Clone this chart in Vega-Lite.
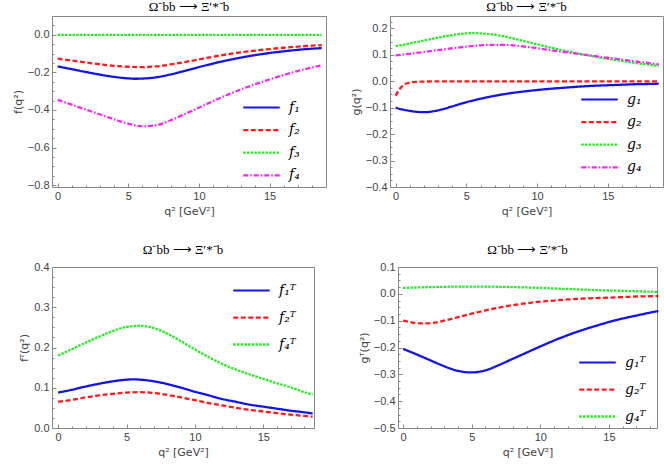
{
  "$schema": "https://vega.github.io/schema/vega-lite/v6.json",
  "padding": {"left": 11, "top": 0, "right": 2, "bottom": 2},
  "spacing": 26,
  "config": {
    "view": {"stroke": "#888888", "strokeWidth": 1},
    "font": "Liberation Sans",
    "axis": {
      "domain": false,
      "grid": false,
      "labelFont": "Liberation Sans",
      "labelFontSize": 11,
      "labelColor": "#444444",
      "titleFont": "DejaVu Sans",
      "titleFontSize": 11,
      "titleFontWeight": "normal",
      "titleColor": "#444444",
      "tickColor": "#888888",
      "tickSize": -4,
      "labelPadding": 7
    },
    "legend": {
      "title": null,
      "orient": "none",
      "symbolType": "M-2,0H2",
      "symbolSize": 333,
      "symbolStrokeWidth": 2.5,
      "symbolFillColor": "transparent",
      "labelFont": "DejaVu Serif",
      "labelFontStyle": "italic",
      "labelFontSize": 14,
      "labelColor": "#000000",
      "labelOffset": 17,
      "rowPadding": 4.6
    },
    "line": {"strokeWidth": 2.3, "interpolate": "monotone"}
  },
  "datasets": {
    "f": [
      {"q2": 0, "fn": "f₁", "v": -0.168}, {"q2": 1, "fn": "f₁", "v": -0.183}, {"q2": 2, "fn": "f₁", "v": -0.198}, {"q2": 3, "fn": "f₁", "v": -0.212}, {"q2": 4, "fn": "f₁", "v": -0.224}, {"q2": 5, "fn": "f₁", "v": -0.232}, {"q2": 5.5, "fn": "f₁", "v": -0.234}, {"q2": 6, "fn": "f₁", "v": -0.233}, {"q2": 7, "fn": "f₁", "v": -0.226}, {"q2": 8, "fn": "f₁", "v": -0.211}, {"q2": 9, "fn": "f₁", "v": -0.192}, {"q2": 10, "fn": "f₁", "v": -0.172}, {"q2": 11, "fn": "f₁", "v": -0.153}, {"q2": 12, "fn": "f₁", "v": -0.136}, {"q2": 13, "fn": "f₁", "v": -0.121}, {"q2": 14, "fn": "f₁", "v": -0.108}, {"q2": 15, "fn": "f₁", "v": -0.097}, {"q2": 16, "fn": "f₁", "v": -0.088}, {"q2": 17, "fn": "f₁", "v": -0.080}, {"q2": 18, "fn": "f₁", "v": -0.074}, {"q2": 18.7, "fn": "f₁", "v": -0.071},
      {"q2": 0, "fn": "f₂", "v": -0.127}, {"q2": 1, "fn": "f₂", "v": -0.137}, {"q2": 2, "fn": "f₂", "v": -0.147}, {"q2": 3, "fn": "f₂", "v": -0.157}, {"q2": 4, "fn": "f₂", "v": -0.165}, {"q2": 5, "fn": "f₂", "v": -0.170}, {"q2": 6, "fn": "f₂", "v": -0.172}, {"q2": 7, "fn": "f₂", "v": -0.168}, {"q2": 8, "fn": "f₂", "v": -0.158}, {"q2": 9, "fn": "f₂", "v": -0.145}, {"q2": 10, "fn": "f₂", "v": -0.131}, {"q2": 11, "fn": "f₂", "v": -0.117}, {"q2": 12, "fn": "f₂", "v": -0.104}, {"q2": 13, "fn": "f₂", "v": -0.093}, {"q2": 14, "fn": "f₂", "v": -0.084}, {"q2": 15, "fn": "f₂", "v": -0.076}, {"q2": 16, "fn": "f₂", "v": -0.069}, {"q2": 17, "fn": "f₂", "v": -0.063}, {"q2": 18, "fn": "f₂", "v": -0.058}, {"q2": 18.7, "fn": "f₂", "v": -0.055},
      {"q2": 0, "fn": "f₃", "v": 0.0}, {"q2": 5, "fn": "f₃", "v": 0.0}, {"q2": 10, "fn": "f₃", "v": 0.0}, {"q2": 15, "fn": "f₃", "v": 0.0}, {"q2": 18.7, "fn": "f₃", "v": 0.0},
      {"q2": 0, "fn": "f₄", "v": -0.346}, {"q2": 1, "fn": "f₄", "v": -0.372}, {"q2": 2, "fn": "f₄", "v": -0.398}, {"q2": 3, "fn": "f₄", "v": -0.424}, {"q2": 4, "fn": "f₄", "v": -0.450}, {"q2": 5, "fn": "f₄", "v": -0.473}, {"q2": 6, "fn": "f₄", "v": -0.487}, {"q2": 7, "fn": "f₄", "v": -0.481}, {"q2": 8, "fn": "f₄", "v": -0.455}, {"q2": 9, "fn": "f₄", "v": -0.422}, {"q2": 10, "fn": "f₄", "v": -0.388}, {"q2": 11, "fn": "f₄", "v": -0.353}, {"q2": 12, "fn": "f₄", "v": -0.320}, {"q2": 13, "fn": "f₄", "v": -0.290}, {"q2": 14, "fn": "f₄", "v": -0.263}, {"q2": 15, "fn": "f₄", "v": -0.238}, {"q2": 16, "fn": "f₄", "v": -0.214}, {"q2": 17, "fn": "f₄", "v": -0.193}, {"q2": 18, "fn": "f₄", "v": -0.174}, {"q2": 18.7, "fn": "f₄", "v": -0.162}
    ],
    "g": [
      {"q2": 0, "fn": "g₁", "v": -0.100}, {"q2": 0.5, "fn": "g₁", "v": -0.107}, {"q2": 1, "fn": "g₁", "v": -0.112}, {"q2": 2, "fn": "g₁", "v": -0.117}, {"q2": 3, "fn": "g₁", "v": -0.110}, {"q2": 4, "fn": "g₁", "v": -0.095}, {"q2": 5, "fn": "g₁", "v": -0.079}, {"q2": 6, "fn": "g₁", "v": -0.066}, {"q2": 7, "fn": "g₁", "v": -0.055}, {"q2": 8, "fn": "g₁", "v": -0.046}, {"q2": 9, "fn": "g₁", "v": -0.039}, {"q2": 10, "fn": "g₁", "v": -0.033}, {"q2": 11, "fn": "g₁", "v": -0.028}, {"q2": 12, "fn": "g₁", "v": -0.024}, {"q2": 13, "fn": "g₁", "v": -0.020}, {"q2": 14, "fn": "g₁", "v": -0.017}, {"q2": 15, "fn": "g₁", "v": -0.015}, {"q2": 16, "fn": "g₁", "v": -0.013}, {"q2": 17, "fn": "g₁", "v": -0.011}, {"q2": 18, "fn": "g₁", "v": -0.010}, {"q2": 18.6, "fn": "g₁", "v": -0.009},
      {"q2": 0, "fn": "g₂", "v": -0.055}, {"q2": 0.2, "fn": "g₂", "v": -0.035}, {"q2": 0.4, "fn": "g₂", "v": -0.022}, {"q2": 0.6, "fn": "g₂", "v": -0.012}, {"q2": 1, "fn": "g₂", "v": -0.005}, {"q2": 1.5, "fn": "g₂", "v": -0.002}, {"q2": 2, "fn": "g₂", "v": -0.001}, {"q2": 4, "fn": "g₂", "v": 0.0}, {"q2": 8, "fn": "g₂", "v": 0.0}, {"q2": 12, "fn": "g₂", "v": 0.0}, {"q2": 16, "fn": "g₂", "v": 0.0}, {"q2": 18.6, "fn": "g₂", "v": 0.0},
      {"q2": 0, "fn": "g₃", "v": 0.133}, {"q2": 1, "fn": "g₃", "v": 0.143}, {"q2": 2, "fn": "g₃", "v": 0.154}, {"q2": 3, "fn": "g₃", "v": 0.165}, {"q2": 4, "fn": "g₃", "v": 0.175}, {"q2": 5, "fn": "g₃", "v": 0.181}, {"q2": 5.5, "fn": "g₃", "v": 0.182}, {"q2": 6, "fn": "g₃", "v": 0.181}, {"q2": 7, "fn": "g₃", "v": 0.176}, {"q2": 8, "fn": "g₃", "v": 0.166}, {"q2": 9, "fn": "g₃", "v": 0.153}, {"q2": 10, "fn": "g₃", "v": 0.140}, {"q2": 11, "fn": "g₃", "v": 0.127}, {"q2": 12, "fn": "g₃", "v": 0.115}, {"q2": 13, "fn": "g₃", "v": 0.104}, {"q2": 14, "fn": "g₃", "v": 0.094}, {"q2": 15, "fn": "g₃", "v": 0.085}, {"q2": 16, "fn": "g₃", "v": 0.077}, {"q2": 17, "fn": "g₃", "v": 0.069}, {"q2": 18, "fn": "g₃", "v": 0.062}, {"q2": 18.6, "fn": "g₃", "v": 0.058},
      {"q2": 0, "fn": "g₄", "v": 0.098}, {"q2": 1, "fn": "g₄", "v": 0.104}, {"q2": 2, "fn": "g₄", "v": 0.111}, {"q2": 3, "fn": "g₄", "v": 0.118}, {"q2": 4, "fn": "g₄", "v": 0.125}, {"q2": 5, "fn": "g₄", "v": 0.131}, {"q2": 6, "fn": "g₄", "v": 0.136}, {"q2": 7, "fn": "g₄", "v": 0.138}, {"q2": 8, "fn": "g₄", "v": 0.137}, {"q2": 9, "fn": "g₄", "v": 0.132}, {"q2": 10, "fn": "g₄", "v": 0.125}, {"q2": 11, "fn": "g₄", "v": 0.117}, {"q2": 12, "fn": "g₄", "v": 0.110}, {"q2": 13, "fn": "g₄", "v": 0.103}, {"q2": 14, "fn": "g₄", "v": 0.096}, {"q2": 15, "fn": "g₄", "v": 0.089}, {"q2": 16, "fn": "g₄", "v": 0.082}, {"q2": 17, "fn": "g₄", "v": 0.075}, {"q2": 18, "fn": "g₄", "v": 0.068}, {"q2": 18.6, "fn": "g₄", "v": 0.064}
    ],
    "fT": [
      {"q2": 0, "fn": "f₁ᵀ", "v": 0.088}, {"q2": 1, "fn": "f₁ᵀ", "v": 0.095}, {"q2": 2, "fn": "f₁ᵀ", "v": 0.103}, {"q2": 3, "fn": "f₁ᵀ", "v": 0.110}, {"q2": 4, "fn": "f₁ᵀ", "v": 0.116}, {"q2": 5, "fn": "f₁ᵀ", "v": 0.120}, {"q2": 5.5, "fn": "f₁ᵀ", "v": 0.121}, {"q2": 6, "fn": "f₁ᵀ", "v": 0.120}, {"q2": 7, "fn": "f₁ᵀ", "v": 0.116}, {"q2": 8, "fn": "f₁ᵀ", "v": 0.109}, {"q2": 9, "fn": "f₁ᵀ", "v": 0.100}, {"q2": 10, "fn": "f₁ᵀ", "v": 0.090}, {"q2": 11, "fn": "f₁ᵀ", "v": 0.081}, {"q2": 12, "fn": "f₁ᵀ", "v": 0.072}, {"q2": 13, "fn": "f₁ᵀ", "v": 0.065}, {"q2": 14, "fn": "f₁ᵀ", "v": 0.058}, {"q2": 15, "fn": "f₁ᵀ", "v": 0.053}, {"q2": 16, "fn": "f₁ᵀ", "v": 0.048}, {"q2": 17, "fn": "f₁ᵀ", "v": 0.043}, {"q2": 18, "fn": "f₁ᵀ", "v": 0.039}, {"q2": 18.6, "fn": "f₁ᵀ", "v": 0.036},
      {"q2": 0, "fn": "f₂ᵀ", "v": 0.065}, {"q2": 1, "fn": "f₂ᵀ", "v": 0.070}, {"q2": 2, "fn": "f₂ᵀ", "v": 0.076}, {"q2": 3, "fn": "f₂ᵀ", "v": 0.081}, {"q2": 4, "fn": "f₂ᵀ", "v": 0.085}, {"q2": 5, "fn": "f₂ᵀ", "v": 0.088}, {"q2": 6, "fn": "f₂ᵀ", "v": 0.089}, {"q2": 7, "fn": "f₂ᵀ", "v": 0.087}, {"q2": 8, "fn": "f₂ᵀ", "v": 0.082}, {"q2": 9, "fn": "f₂ᵀ", "v": 0.076}, {"q2": 10, "fn": "f₂ᵀ", "v": 0.069}, {"q2": 11, "fn": "f₂ᵀ", "v": 0.062}, {"q2": 12, "fn": "f₂ᵀ", "v": 0.056}, {"q2": 13, "fn": "f₂ᵀ", "v": 0.050}, {"q2": 14, "fn": "f₂ᵀ", "v": 0.045}, {"q2": 15, "fn": "f₂ᵀ", "v": 0.041}, {"q2": 16, "fn": "f₂ᵀ", "v": 0.037}, {"q2": 17, "fn": "f₂ᵀ", "v": 0.033}, {"q2": 18, "fn": "f₂ᵀ", "v": 0.030}, {"q2": 18.6, "fn": "f₂ᵀ", "v": 0.028},
      {"q2": 0, "fn": "f₄ᵀ", "v": 0.180}, {"q2": 1, "fn": "f₄ᵀ", "v": 0.196}, {"q2": 2, "fn": "f₄ᵀ", "v": 0.212}, {"q2": 3, "fn": "f₄ᵀ", "v": 0.227}, {"q2": 4, "fn": "f₄ᵀ", "v": 0.241}, {"q2": 5, "fn": "f₄ᵀ", "v": 0.251}, {"q2": 6, "fn": "f₄ᵀ", "v": 0.254}, {"q2": 7, "fn": "f₄ᵀ", "v": 0.248}, {"q2": 8, "fn": "f₄ᵀ", "v": 0.234}, {"q2": 9, "fn": "f₄ᵀ", "v": 0.215}, {"q2": 10, "fn": "f₄ᵀ", "v": 0.195}, {"q2": 11, "fn": "f₄ᵀ", "v": 0.176}, {"q2": 12, "fn": "f₄ᵀ", "v": 0.159}, {"q2": 13, "fn": "f₄ᵀ", "v": 0.145}, {"q2": 14, "fn": "f₄ᵀ", "v": 0.133}, {"q2": 15, "fn": "f₄ᵀ", "v": 0.122}, {"q2": 16, "fn": "f₄ᵀ", "v": 0.111}, {"q2": 17, "fn": "f₄ᵀ", "v": 0.101}, {"q2": 18, "fn": "f₄ᵀ", "v": 0.089}, {"q2": 18.6, "fn": "f₄ᵀ", "v": 0.083}
    ],
    "gT": [
      {"q2": 0, "fn": "g₁ᵀ", "v": -0.205}, {"q2": 1, "fn": "g₁ᵀ", "v": -0.226}, {"q2": 2, "fn": "g₁ᵀ", "v": -0.248}, {"q2": 3, "fn": "g₁ᵀ", "v": -0.270}, {"q2": 4, "fn": "g₁ᵀ", "v": -0.287}, {"q2": 5, "fn": "g₁ᵀ", "v": -0.293}, {"q2": 6, "fn": "g₁ᵀ", "v": -0.285}, {"q2": 7, "fn": "g₁ᵀ", "v": -0.265}, {"q2": 8, "fn": "g₁ᵀ", "v": -0.242}, {"q2": 9, "fn": "g₁ᵀ", "v": -0.219}, {"q2": 10, "fn": "g₁ᵀ", "v": -0.196}, {"q2": 11, "fn": "g₁ᵀ", "v": -0.174}, {"q2": 12, "fn": "g₁ᵀ", "v": -0.154}, {"q2": 13, "fn": "g₁ᵀ", "v": -0.136}, {"q2": 14, "fn": "g₁ᵀ", "v": -0.120}, {"q2": 15, "fn": "g₁ᵀ", "v": -0.105}, {"q2": 16, "fn": "g₁ᵀ", "v": -0.092}, {"q2": 17, "fn": "g₁ᵀ", "v": -0.081}, {"q2": 18, "fn": "g₁ᵀ", "v": -0.070}, {"q2": 18.6, "fn": "g₁ᵀ", "v": -0.064},
      {"q2": 0, "fn": "g₂ᵀ", "v": -0.100}, {"q2": 0.5, "fn": "g₂ᵀ", "v": -0.105}, {"q2": 1, "fn": "g₂ᵀ", "v": -0.109}, {"q2": 1.5, "fn": "g₂ᵀ", "v": -0.110}, {"q2": 2, "fn": "g₂ᵀ", "v": -0.109}, {"q2": 3, "fn": "g₂ᵀ", "v": -0.100}, {"q2": 4, "fn": "g₂ᵀ", "v": -0.087}, {"q2": 5, "fn": "g₂ᵀ", "v": -0.074}, {"q2": 6, "fn": "g₂ᵀ", "v": -0.062}, {"q2": 7, "fn": "g₂ᵀ", "v": -0.051}, {"q2": 8, "fn": "g₂ᵀ", "v": -0.042}, {"q2": 9, "fn": "g₂ᵀ", "v": -0.035}, {"q2": 10, "fn": "g₂ᵀ", "v": -0.029}, {"q2": 11, "fn": "g₂ᵀ", "v": -0.025}, {"q2": 12, "fn": "g₂ᵀ", "v": -0.021}, {"q2": 13, "fn": "g₂ᵀ", "v": -0.018}, {"q2": 14, "fn": "g₂ᵀ", "v": -0.016}, {"q2": 15, "fn": "g₂ᵀ", "v": -0.014}, {"q2": 16, "fn": "g₂ᵀ", "v": -0.012}, {"q2": 17, "fn": "g₂ᵀ", "v": -0.010}, {"q2": 18, "fn": "g₂ᵀ", "v": -0.009}, {"q2": 18.6, "fn": "g₂ᵀ", "v": -0.008},
      {"q2": 0, "fn": "g₄ᵀ", "v": 0.022}, {"q2": 2, "fn": "g₄ᵀ", "v": 0.025}, {"q2": 4, "fn": "g₄ᵀ", "v": 0.027}, {"q2": 5, "fn": "g₄ᵀ", "v": 0.027}, {"q2": 6, "fn": "g₄ᵀ", "v": 0.027}, {"q2": 8, "fn": "g₄ᵀ", "v": 0.025}, {"q2": 10, "fn": "g₄ᵀ", "v": 0.022}, {"q2": 12, "fn": "g₄ᵀ", "v": 0.018}, {"q2": 14, "fn": "g₄ᵀ", "v": 0.014}, {"q2": 16, "fn": "g₄ᵀ", "v": 0.011}, {"q2": 18, "fn": "g₄ᵀ", "v": 0.008}, {"q2": 18.6, "fn": "g₄ᵀ", "v": 0.007}
    ]
  },
  "vconcat": [
    {
      "spacing": 22,
      "hconcat": [
        {
          "title": {"text": "Ω⁻bb ⟶ Ξ′*⁻b", "font": "Liberation Serif", "fontSize": 13, "fontWeight": "normal", "color": "#000000", "offset": 2},
          "width": 274,
          "height": 171,
          "data": {"name": "f"},
          "mark": "line",
          "encoding": {
            "x": {"field": "q2", "type": "quantitative", "title": "q² [GeV²]",
              "scale": {"domain": [-0.4, 19.0], "nice": false, "zero": false},
              "axis": {"values": [0, 1, 2, 3, 4, 5, 6, 7, 8, 9, 10, 11, 12, 13, 14, 15, 16, 17, 18, 19],
                "labelExpr": "datum.value % 5 == 0 ? datum.label : ''",
                "tickSize": {"condition": {"test": "datum.value % 5 == 0", "value": -4}, "value": -2}}},
            "y": {"field": "v", "type": "quantitative", "title": "f(q²)",
              "scale": {"domain": [-0.81, 0.1], "nice": false, "zero": false},
              "axis": {"values": [-0.8, -0.75, -0.7, -0.65, -0.6, -0.55, -0.5, -0.45, -0.4, -0.35, -0.3, -0.25, -0.2, -0.15, -0.1, -0.05, 0, 0.05],
                "format": ".1f",
                "labelExpr": "abs(round(datum.value * 100)) % 20 == 0 ? datum.label : ''",
                "tickSize": {"condition": {"test": "abs(round(datum.value * 100)) % 20 == 0", "value": -4}, "value": -2}}},
            "color": {"field": "fn", "type": "nominal",
              "scale": {"domain": ["f₁", "f₂", "f₃", "f₄"], "range": ["#1414e6", "#ff1a1a", "#22ee22", "#ff22ff"]},
              "legend": {"legendX": 199, "legendY": 81}},
            "strokeDash": {"field": "fn", "type": "nominal",
              "scale": {"domain": ["f₁", "f₂", "f₃", "f₄"], "range": [[1, 0], [5, 2.5], [2.5, 1.2], [5, 2, 1.5, 2]]}},
            "strokeWidth": {"field": "fn", "type": "nominal", "legend": null,
              "scale": {"domain": ["f₁", "f₂", "f₃", "f₄"], "range": [2.2, 2.3, 3.2, 2.8]}}
          }
        },
        {
          "title": {"text": "Ω⁻bb ⟶ Ξ′*⁻b", "font": "Liberation Serif", "fontSize": 13, "fontWeight": "normal", "color": "#000000", "offset": 2},
          "width": 273,
          "height": 171,
          "data": {"name": "g"},
          "mark": "line",
          "encoding": {
            "x": {"field": "q2", "type": "quantitative", "title": "q² [GeV²]",
              "scale": {"domain": [-0.4, 18.9], "nice": false, "zero": false},
              "axis": {"values": [0, 1, 2, 3, 4, 5, 6, 7, 8, 9, 10, 11, 12, 13, 14, 15, 16, 17, 18],
                "labelExpr": "datum.value % 5 == 0 ? datum.label : ''",
                "tickSize": {"condition": {"test": "datum.value % 5 == 0", "value": -4}, "value": -2}}},
            "y": {"field": "v", "type": "quantitative", "title": "g(q²)",
              "scale": {"domain": [-0.4, 0.247], "nice": false, "zero": false},
              "axis": {"values": [-0.4, -0.375, -0.35, -0.325, -0.3, -0.275, -0.25, -0.225, -0.2, -0.175, -0.15, -0.125, -0.1, -0.075, -0.05, -0.025, 0, 0.025, 0.05, 0.075, 0.1, 0.125, 0.15, 0.175, 0.2, 0.225],
                "format": ".1f",
                "labelExpr": "abs(round(datum.value * 1000)) % 100 == 0 ? datum.label : ''",
                "tickSize": {"condition": {"test": "abs(round(datum.value * 1000)) % 100 == 0", "value": -4}, "value": -2}}},
            "color": {"field": "fn", "type": "nominal",
              "scale": {"domain": ["g₁", "g₂", "g₃", "g₄"], "range": ["#1414e6", "#ff1a1a", "#22ee22", "#ff22ff"]},
              "legend": {"legendX": 199, "legendY": 73}},
            "strokeDash": {"field": "fn", "type": "nominal",
              "scale": {"domain": ["g₁", "g₂", "g₃", "g₄"], "range": [[1, 0], [5, 2.5], [2.5, 1.2], [5, 2, 1.5, 2]]}},
            "strokeWidth": {"field": "fn", "type": "nominal", "legend": null,
              "scale": {"domain": ["g₁", "g₂", "g₃", "g₄"], "range": [2.2, 2.3, 3.2, 2.8]}}
          }
        }
      ],
      "resolve": {"scale": {"color": "independent", "strokeDash": "independent", "strokeWidth": "independent"}, "legend": {"color": "independent", "strokeDash": "independent"}}
    },
    {
      "spacing": 39,
      "hconcat": [
        {
          "title": {"text": "Ω⁻bb ⟶ Ξ′*⁻b", "font": "Liberation Serif", "fontSize": 13, "fontWeight": "normal", "color": "#000000", "offset": 4},
          "width": 262,
          "height": 161,
          "data": {"name": "fT"},
          "mark": "line",
          "encoding": {
            "x": {"field": "q2", "type": "quantitative", "title": "q² [GeV²]",
              "scale": {"domain": [-0.45, 18.7], "nice": false, "zero": false},
              "axis": {"values": [0, 1, 2, 3, 4, 5, 6, 7, 8, 9, 10, 11, 12, 13, 14, 15, 16, 17, 18],
                "labelExpr": "datum.value % 5 == 0 ? datum.label : ''",
                "tickSize": {"condition": {"test": "datum.value % 5 == 0", "value": -4}, "value": -2}}},
            "y": {"field": "v", "type": "quantitative", "title": "fᵀ(q²)",
              "scale": {"domain": [0, 0.4], "nice": false, "zero": false},
              "axis": {"values": [0, 0.025, 0.05, 0.075, 0.1, 0.125, 0.15, 0.175, 0.2, 0.225, 0.25, 0.275, 0.3, 0.325, 0.35, 0.375, 0.4],
                "format": ".1f",
                "labelExpr": "abs(round(datum.value * 1000)) % 100 == 0 ? datum.label : ''",
                "tickSize": {"condition": {"test": "abs(round(datum.value * 1000)) % 100 == 0", "value": -4}, "value": -2}}},
            "color": {"field": "fn", "type": "nominal",
              "scale": {"domain": ["f₁ᵀ", "f₂ᵀ", "f₄ᵀ"], "range": ["#1414e6", "#ff1a1a", "#22ee22"]},
              "legend": {"legendX": 189, "legendY": 13, "rowPadding": 9}},
            "strokeDash": {"field": "fn", "type": "nominal",
              "scale": {"domain": ["f₁ᵀ", "f₂ᵀ", "f₄ᵀ"], "range": [[1, 0], [5, 2.5], [2.5, 1.2]]}},
            "strokeWidth": {"field": "fn", "type": "nominal", "legend": null,
              "scale": {"domain": ["f₁ᵀ", "f₂ᵀ", "f₄ᵀ"], "range": [2.2, 2.3, 3.2]}}
          }
        },
        {
          "title": {"text": "Ω⁻bb ⟶ Ξ′*⁻b", "font": "Liberation Serif", "fontSize": 13, "fontWeight": "normal", "color": "#000000", "offset": 4},
          "width": 259,
          "height": 161,
          "data": {"name": "gT"},
          "mark": "line",
          "encoding": {
            "x": {"field": "q2", "type": "quantitative", "title": "q² [GeV²]",
              "scale": {"domain": [-0.37, 18.5], "nice": false, "zero": false},
              "axis": {"values": [0, 1, 2, 3, 4, 5, 6, 7, 8, 9, 10, 11, 12, 13, 14, 15, 16, 17, 18],
                "labelExpr": "datum.value % 5 == 0 ? datum.label : ''",
                "tickSize": {"condition": {"test": "datum.value % 5 == 0", "value": -4}, "value": -2}}},
            "y": {"field": "v", "type": "quantitative", "title": "gᵀ(q²)",
              "scale": {"domain": [-0.5, 0.1], "nice": false, "zero": false},
              "axis": {"values": [-0.5, -0.475, -0.45, -0.425, -0.4, -0.375, -0.35, -0.325, -0.3, -0.275, -0.25, -0.225, -0.2, -0.175, -0.15, -0.125, -0.1, -0.075, -0.05, -0.025, 0, 0.025, 0.05, 0.075, 0.1],
                "format": ".1f",
                "labelExpr": "abs(round(datum.value * 1000)) % 100 == 0 ? datum.label : ''",
                "tickSize": {"condition": {"test": "abs(round(datum.value * 1000)) % 100 == 0", "value": -4}, "value": -2}}},
            "color": {"field": "fn", "type": "nominal",
              "scale": {"domain": ["g₁ᵀ", "g₂ᵀ", "g₄ᵀ"], "range": ["#1414e6", "#ff1a1a", "#22ee22"]},
              "legend": {"legendX": 189, "legendY": 85, "rowPadding": 9}},
            "strokeDash": {"field": "fn", "type": "nominal",
              "scale": {"domain": ["g₁ᵀ", "g₂ᵀ", "g₄ᵀ"], "range": [[1, 0], [5, 2.5], [2.5, 1.2]]}},
            "strokeWidth": {"field": "fn", "type": "nominal", "legend": null,
              "scale": {"domain": ["g₁ᵀ", "g₂ᵀ", "g₄ᵀ"], "range": [2.2, 2.3, 3.2]}}
          }
        }
      ],
      "resolve": {"scale": {"color": "independent", "strokeDash": "independent", "strokeWidth": "independent"}, "legend": {"color": "independent", "strokeDash": "independent"}}
    }
  ]
}
